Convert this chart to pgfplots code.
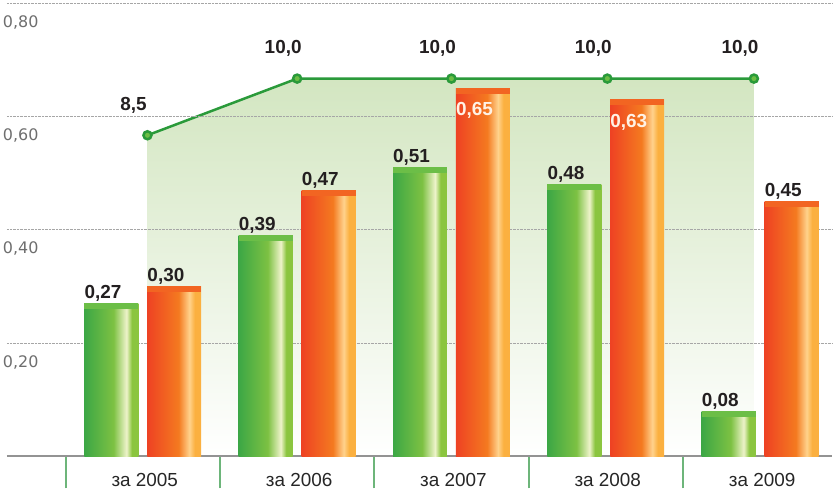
\documentclass[border=0pt]{standalone}
\usepackage{pgfplots}
\pgfplotsset{compat=1.18}
\usepackage{fontspec}
\setmainfont{Liberation Sans}
\newfontfamily\tickfont{DejaVu Sans}

\definecolor{gA}{HTML}{3CA745}
\definecolor{gB}{HTML}{7DC143}
\definecolor{gHi}{HTML}{EEF3CA}
\definecolor{gC}{HTML}{8BC53F}
\definecolor{gCap}{HTML}{6CBE47}
\definecolor{oA}{HTML}{EE4223}
\definecolor{oB}{HTML}{F47A20}
\definecolor{oHi}{HTML}{FFD28C}
\definecolor{oC}{HTML}{FBB040}
\definecolor{oCap}{HTML}{F26522}
\definecolor{lineGreen}{HTML}{2A9A3A}
\definecolor{dotGreen}{HTML}{6DBE45}
\definecolor{areaTop}{HTML}{D3E6C1}
\definecolor{areaMid}{HTML}{F0F6E9}
\definecolor{sepGreen}{HTML}{6DB57A}
\definecolor{tickGray}{HTML}{6E6E6E}
\definecolor{labelDark}{HTML}{231F20}

\pgfdeclarehorizontalshading{greenbar}{100bp}{color(0bp)=(gA); color(25bp)=(gA);
  color(52bp)=(gB); color(64bp)=(gHi); color(69bp)=(gC); color(75bp)=(gC); color(100bp)=(gC)}
\pgfdeclarehorizontalshading{orangebar}{100bp}{color(0bp)=(oA); color(25bp)=(oA);
  color(54bp)=(oB); color(64bp)=(oHi); color(69bp)=(oC); color(75bp)=(oC); color(100bp)=(oC)}

% thin strip on top of each bar (left bar / right bar of a pair)
\pgfdeclareplotmark{capL}{\pgfpathrectangle{\pgfpoint{-58.5bp}{-6bp}}{\pgfpoint{54bp}{6bp}}\pgfusepathqfill}
\pgfdeclareplotmark{capR}{\pgfpathrectangle{\pgfpoint{4.5bp}{-6bp}}{\pgfpoint{54bp}{6bp}}\pgfusepathqfill}

\begin{document}
\begin{tikzpicture}
\pgfplotsset{
  base/.style={
    scale only axis, width=826bp, height=457bp,
    xmin=-0.880, xmax=4.466, ymin=0, clip=false,
  },
}
% line on the secondary scale, with the shaded area under it
\begin{axis}[base, ymax=12.08, hide axis,
    /pgf/number format/.cd, use comma, fixed, fixed zerofill, precision=1, assume math mode=true]
  \addplot[draw=none, top color=areaTop, middle color=areaMid, bottom color=white] coordinates {
    (0.03,8.5) (1.0,10.0) (2.0,10.0) (3.01,10.0) (3.96,10.0)
  } \closedcycle;
  \addplot[lineGreen, line width=2.5bp, mark=*, mark size=4bp,
      mark options={fill=dotGreen, draw=none},
      nodes near coords,
      every node near coord/.append style={anchor=base, xshift=-14bp, yshift=25bp,
        font=\fontsize{19}{21}\selectfont\bfseries, text=labelDark, inner sep=0pt}]
    coordinates {
    (0.03,8.5) (1.0,10.0) (2.0,10.0) (3.01,10.0) (3.96,10.0)
  };
\end{axis}

% bars
\begin{axis}[base, ymax=0.8053,
    axis x line*=bottom, axis y line*=left,
    x axis line style={-, draw=gray!85, line width=2bp},
    y axis line style={draw=none},
    ytick={0.2,0.4,0.6,0.8},
    major y tick style={draw=none},
    ymajorgrids, grid style={densely dotted, gray!70, line width=0.8bp},
    yticklabel style={anchor=north west, yshift=-12bp, inner sep=0pt,
      font=\tickfont\fontsize{16}{18}\selectfont, text=tickGray},
    xtick={0,...,4}, major x tick style={draw=none},
    xticklabels={за 2005, за 2006, за 2007, за 2008, за 2009},
    xticklabel style={anchor=base, yshift=-26bp, xshift=2bp, inner sep=0pt,
      font=\fontsize{19}{21}\selectfont, text=black!85},
    minor xtick={-0.5,0.5,...,3.5}, minor tick length=32bp, tick align=outside,
    minor x tick style={draw=sepGreen, line width=2bp},
    /pgf/number format/.cd, use comma, fixed, fixed zerofill, precision=2, assume math mode=true]
  \pgfplotsset{
    lab/.style 2 args={nodes near coords,
      every node near coord/.append style={anchor=base west, xshift=#1, yshift=#2,
        font=\fontsize{19}{21}\selectfont\bfseries, inner sep=0pt, text=labelDark}},
    gbar/.style={ybar, bar width=54bp, bar shift=-31.5bp, draw=none, shading=greenbar,
      lab={-58.5bp}{5bp}},
    obar/.style={ybar, bar width=54bp, bar shift=31.5bp, draw=none, shading=orangebar,
      lab={4.5bp}{5bp}},
    obarin/.style={ybar, bar width=54bp, bar shift=31.5bp, draw=none, shading=orangebar,
      lab={4.5bp}{-28bp}, every node near coord/.append style={text=white!90!orange}},
  }
  % green series: one plot per bar, so each bar gets its own shading
  \addplot[gbar] coordinates {(0,0.27)};
  \addplot[gbar] coordinates {(1,0.39)};
  \addplot[gbar] coordinates {(2,0.51)};
  \addplot[gbar] coordinates {(3,0.48)};
  \addplot[gbar] coordinates {(4,0.08)};
  \addplot[only marks, mark=capL, mark options={fill=gCap, draw=none}]
    coordinates {(0,0.27) (1,0.39) (2,0.51) (3,0.48) (4,0.08)};
  % orange series
  \addplot[obar] coordinates {(0,0.30)};
  \addplot[obar] coordinates {(1,0.47)};
  \addplot[obarin] coordinates {(2,0.65)};
  \addplot[obarin] coordinates {(3,0.63)};
  \addplot[obar] coordinates {(4,0.45)};
  \addplot[only marks, mark=capR, mark options={fill=oCap, draw=none}]
    coordinates {(0,0.30) (1,0.47) (2,0.65) (3,0.63) (4,0.45)};
\end{axis}
\path (-7bp,0);
\end{tikzpicture}
\end{document}
